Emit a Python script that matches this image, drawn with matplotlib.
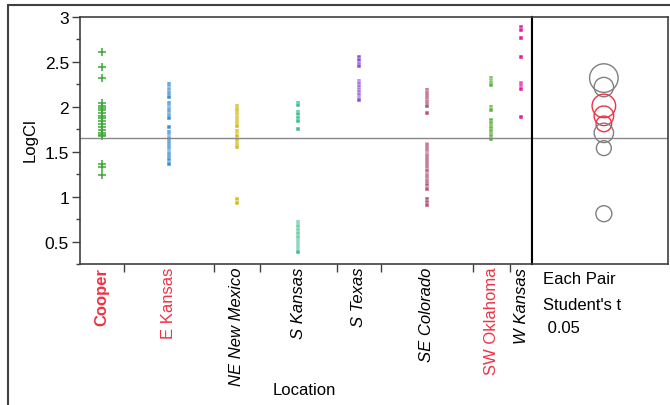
import numpy as np
import matplotlib.pyplot as plt
from matplotlib.patches import Circle, Rectangle

plt.rcParams['font.family'] = ['Liberation Sans', 'DejaVu Sans']

# data
locations = ["Cooper", "E Kansas", "NE New Mexico", "S Kansas",
             "S Texas", "SE Colorado", "SW Oklahoma", "W Kansas"]

cooper = [2.61, 2.44, 2.32, 2.04, 2.01, 1.99, 1.96, 1.93, 1.90, 1.87,
          1.84, 1.81, 1.77, 1.74, 1.71, 1.69, 1.67, 1.36, 1.33, 1.24]
e_kansas = [2.25, 2.23, 2.21, 2.20, 2.19, 2.17, 2.15, 2.13, 2.11,
            2.04, 2.02, 2.00, 1.99, 1.98, 1.96, 1.94, 1.92, 1.91, 1.90, 1.88,
            1.77,
            1.72, 1.70, 1.68, 1.66, 1.65, 1.64, 1.62, 1.60,
            1.57, 1.55, 1.53, 1.51, 1.50, 1.49, 1.47, 1.45, 1.43, 1.41,
            1.38, 1.36]
ne_new_mexico = [2.01, 1.99, 1.97, 1.93, 1.91, 1.89, 1.87, 1.85, 1.83, 1.81,
                 1.79, 1.73, 1.71, 1.69, 1.67, 1.63, 1.60, 1.57, 1.55,
                 0.97, 0.93]
s_kansas = [2.04, 2.02, 1.94, 1.92, 1.87, 1.84, 1.75,
            0.72, 0.71, 0.70, 0.68, 0.67, 0.66, 0.64, 0.63, 0.62, 0.60,
            0.59, 0.58, 0.56, 0.55, 0.54, 0.52, 0.51, 0.50, 0.48, 0.47,
            0.46, 0.45, 0.44, 0.43, 0.42, 0.41, 0.40, 0.38]
s_texas = [2.55, 2.52, 2.48, 2.45,
           2.29, 2.28, 2.26, 2.25, 2.23, 2.22, 2.20, 2.19, 2.17, 2.16,
           2.14, 2.13, 2.11, 2.10, 2.09, 2.08]
se_colorado = [2.19, 2.17, 2.15, 2.13, 2.11, 2.09, 2.07, 2.05, 2.03, 2.01,
               1.93,
               1.59, 1.58, 1.57, 1.55, 1.53, 1.51, 1.49, 1.47, 1.46, 1.45,
               1.43, 1.41, 1.39,
               1.36, 1.34, 1.32, 1.30, 1.28,
               1.25, 1.24, 1.23, 1.21, 1.19, 1.17, 1.15, 1.13,
               1.10, 1.08, 0.97, 0.94, 0.91]
sw_oklahoma = [2.32, 2.30, 2.29, 2.27, 2.26, 2.24, 2.00, 1.98, 1.96,
               1.85, 1.82, 1.79, 1.76, 1.73, 1.70, 1.67, 1.64]
w_kansas = [2.89, 2.85, 2.77, 2.56, 2.27, 2.25, 2.23, 2.21, 2.20, 1.89]

groups = [cooper, e_kansas, ne_new_mexico, s_kansas,
          s_texas, se_colorado, sw_oklahoma, w_kansas]
colors = ['#3aa935', '#3b8fd4', '#d4bd1e', '#3cc08c',
          '#8e4fd6', '#b5577a', '#62b04a', '#e81ca0']

grand_mean = 1.656

# comparison circles (mean, radius)
circle_means = [1.90, 1.81, 1.71, 0.81, 2.22, 1.54, 2.01, 2.32]
circle_radii = [0.109, 0.087, 0.108, 0.089, 0.108, 0.083, 0.131, 0.159]
circle_sig = [True, True, False, False, False, False, True, False]

red = '#ee3344'
frame = '#404040'

W, H = 670, 406
fig = plt.figure(figsize=(W/100, H/100), dpi=100)

# outer frame
fig.add_artist(Rectangle((8/W, -0.1), 1.0, 1.1 - 5.5/H, transform=fig.transFigure,
                         fill=False, ec=frame, lw=1.5))

ax = fig.add_axes([80/W, 141/H, 452/W, 247/H])
counts = [len(g) for g in groups]
edges = np.concatenate([[0], np.cumsum(counts)])
centers = (edges[:-1] + edges[1:]) / 2

for i, (g, col) in enumerate(zip(groups, colors)):
    xs = np.full(len(g), centers[i])
    if i == 0:
        ax.plot(xs, g, ls='none', marker='+', ms=6, mew=1.1, color=col)
    else:
        ax.plot(xs, g, ls='none', marker='s', ms=2.6, mew=0.35,
                mec='white', color=col)

ax.axhline(grand_mean, color='#888888', lw=1)
ax.set_xlim(0, edges[-1])
ax.set_ylim(0.25, 3.0)

ax.set_yticks(np.arange(0.5, 3.01, 0.5))
ax.set_yticklabels(['0.5', '1', '1.5', '2', '2.5', '3'])
ax.set_yticks(np.arange(0.25, 3.0, 0.5), minor=True)
ax.tick_params(axis='y', which='major', length=6, width=1, pad=2,
               labelsize=12.5, color=frame)
ax.tick_params(axis='y', which='minor', length=3, width=1, color=frame)

ax.set_xticks(edges[1:-1])
ax.set_xticklabels([])
ax.set_xticks(centers, minor=True)
ax.set_xticklabels(locations, minor=True, rotation=90, fontsize=12)
ax.tick_params(axis='x', which='major', length=6, width=1, color=frame)
ax.tick_params(axis='x', which='minor', length=0, pad=2)
for lab in ax.get_xticklabels(minor=True):
    t = lab.get_text()
    if t == 'Cooper':
        lab.set_color(red)
        lab.set_fontweight('bold')
    elif t in ('E Kansas', 'SW Oklahoma'):
        lab.set_color(red)
    else:
        lab.set_fontstyle('italic')
        lab.set_color('black')

for s in ax.spines.values():
    s.set_color(frame)
    s.set_linewidth(1.2)
ax.spines['right'].set_color('black')
ax.spines['right'].set_linewidth(1.5)

# comparison circles panel
ax2 = fig.add_axes([532/W, 141/H, 136/W, 247/H])
ax2.set_ylim(0.25, 3.0)
xr = 2.75 * 136 / 247
ax2.set_xlim(-0.8, xr - 0.8)
ax2.axhline(grand_mean, color='#888888', lw=1)
for m, r, sig in zip(circle_means, circle_radii, circle_sig):
    ax2.add_patch(Circle((0, m), r, fill=False, lw=1,
                         ec=red if sig else '#808080'))
ax2.set_xticks([])
ax2.set_yticks([])
for s in ax2.spines.values():
    s.set_color(frame)
    s.set_linewidth(1.2)
ax2.spines['left'].set_color('black')
ax2.spines['left'].set_linewidth(1.5)

fig.text(543/W, 1 - 280/H, "Each Pair", fontsize=12, va='center')
fig.text(543/W, 1 - 305/H, "Student's t", fontsize=12, va='center')
fig.text(543/W, 1 - 329/H, " 0.05", fontsize=12, va='center')

fig.text(30/W, 1 - 140/H, "LogCl", fontsize=12, rotation=90,
         ha='center', va='center')
fig.text(304/W, 1 - 391/H, "Location", fontsize=12, ha='center', va='center')

fig.savefig("out.png", dpi=100)
